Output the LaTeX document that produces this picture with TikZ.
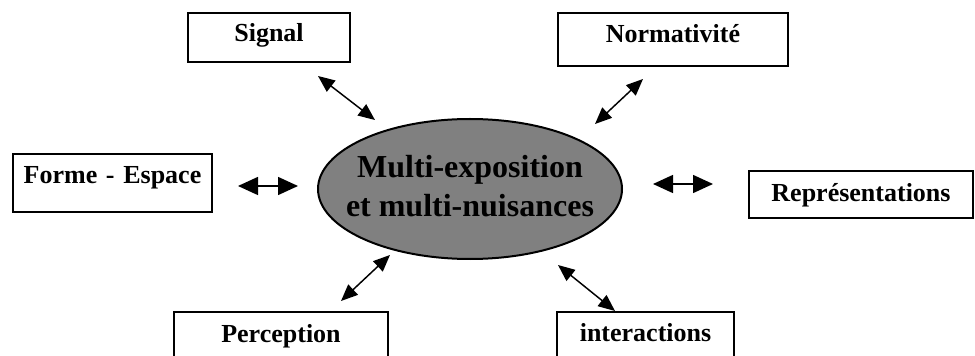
\documentclass[tikz,border=0pt]{standalone}
\usepackage{fontspec}
\setmainfont{Liberation Serif}
\usetikzlibrary{arrows.meta,shapes.geometric}
\begin{document}
\begin{tikzpicture}[x=0.75pt,y=-0.75pt,
  box/.style={draw=black,line width=1.5pt,fill=white,inner sep=0pt,anchor=base,align=center,
    font=\bfseries\fontsize{19.5pt}{23pt}\selectfont},
  darr/.style={line width=1.1pt,{Triangle[length=12.5pt,width=10.5pt]}-{Triangle[length=12.5pt,width=10.5pt]}},
  harr/.style={line width=1.1pt,{Triangle[length=15pt,width=13.5pt]}-{Triangle[length=15pt,width=13.5pt]}}]
\useasboundingbox (0,0) rectangle (975,356);
\clip (0,0) rectangle (975,356);
\fill[white] (0,0) rectangle (975,356);
% central ellipse
\node[ellipse,draw=black,line width=1.5pt,fill=gray,minimum width=228pt,minimum height=105pt,inner sep=0pt] (c) at (470,189) {};
\node[align=center,inner sep=0pt,font=\bfseries\fontsize{24pt}{29.25pt}\selectfont] (ctext) at (470,186) {Multi-exposition\\et multi-nuisances};
% boxes
\node[box,text width=121.5pt,text height=21.75pt,text depth=15pt] (sig) at (269,42) {Signal};
\node[box,text width=172.5pt,text height=22.5pt,text depth=17.25pt] (norm) at (673,43) {Normativité};
\node[box,text width=149.25pt,text height=22.5pt,text depth=21pt] (forme) at (112.5,184) {Forme - Espace};
\node[box,text width=168pt,text height=23.25pt,text depth=12pt] (rep) at (861,202) {Représentations};
\node[box,text width=160.5pt,text height=22.5pt,text depth=24pt] (perc) at (281,342) {Perception};
\node[box,text width=132.75pt,text height=21.75pt,text depth=24pt] (inter) at (645.5,341) {interactions};
% arrow ends
\coordinate (s1) at (318,76);  \coordinate (s2) at (375,120);
\coordinate (n1) at (643,79);  \coordinate (n2) at (595,124);
\coordinate (f1) at (238,186); \coordinate (f2) at (298,186);
\coordinate (r1) at (653,184); \coordinate (r2) at (713,184);
\coordinate (p1) at (390,255); \coordinate (p2) at (341,301);
\coordinate (i1) at (558,265); \coordinate (i2) at (615,311);
% arrows
\draw[darr] (s1) -- (s2);
\draw[darr] (n1) -- (n2);
\draw[harr] (f1) -- (f2);
\draw[harr] (r1) -- (r2);
\draw[darr] (p1) -- (p2);
\draw[darr] (i1) -- (i2);
\end{tikzpicture}
\end{document}
